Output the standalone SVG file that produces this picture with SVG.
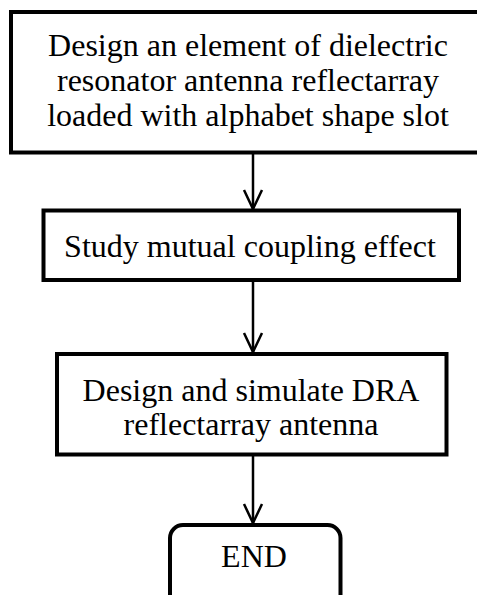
<svg xmlns="http://www.w3.org/2000/svg" width="477" height="595" viewBox="0 0 477 595">
<style>
.box{fill:#fff;stroke:#000;stroke-width:4}
.t{font-family:"Liberation Serif","Times New Roman",serif;font-size:32px;fill:#000;text-anchor:middle}
.c{stroke:#000;stroke-width:2.5;fill:none;marker-end:url(#arr)}
</style>
<defs>
<marker id="arr" markerWidth="24" markerHeight="24" viewBox="-20 -12 24 24" refX="0" refY="0" orient="auto" markerUnits="userSpaceOnUse">
<path d="M-19,-9 L0,0 L-19,9" fill="none" stroke="#000" stroke-width="2.5"/>
</marker>
</defs>
<rect width="477" height="595" fill="#fff"/>
<g id="connectors">
<path class="c" d="M253,154 V209"/>
<path class="c" d="M253,282 V352"/>
<path class="c" d="M253,456 V523"/>
</g>
<g id="n1">
<rect class="box" x="11" y="12" width="480" height="140.5"/>
<text class="t" x="248" y="56">Design an element of dielectric</text>
<text class="t" x="248" y="91">resonator antenna reflectarray</text>
<text class="t" x="248" y="126">loaded with alphabet shape slot</text>
</g>
<g id="n2">
<rect class="box" x="43.5" y="210.5" width="415.5" height="69.5"/>
<text class="t" x="250" y="257">Study mutual coupling effect</text>
</g>
<g id="n3">
<rect class="box" x="57" y="354" width="389.5" height="100.5"/>
<text class="t" x="251" y="401">Design and simulate DRA</text>
<text class="t" x="251" y="435">reflectarray antenna</text>
</g>
<g id="n4">
<rect class="box" x="170" y="525" width="170.5" height="90" rx="13" ry="13"/>
<text class="t" x="254" y="567">END</text>
</g>
</svg>
